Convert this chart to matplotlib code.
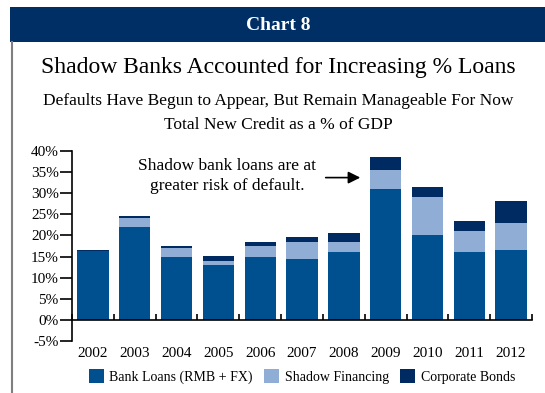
import numpy as np
import matplotlib
matplotlib.use("Agg")
import matplotlib.pyplot as plt
from matplotlib.patches import Rectangle
from matplotlib.lines import Line2D
from matplotlib.ticker import FuncFormatter, FixedLocator

plt.rcParams['font.family'] = ['Liberation Serif', 'DejaVu Serif']

years = ['2002', '2003', '2004', '2005', '2006', '2007', '2008', '2009', '2010', '2011', '2012']
bank_loans = [16.2, 22.0, 14.9, 13.0, 14.9, 14.4, 16.1, 31.0, 20.1, 16.1, 16.6]
shadow_fin = [0.0, 2.1, 2.1, 1.0, 2.6, 4.1, 2.4, 4.5, 9.0, 5.0, 6.4]
corp_bonds = [0.4, 0.5, 0.5, 1.1, 1.0, 1.1, 2.1, 3.1, 2.4, 2.3, 5.2]
yticks = [-5, 0, 5, 10, 15, 20, 25, 30, 35, 40]

c_bank = '#00508f'
c_shadow = '#8fadd5'
c_corp = '#002b62'
c_head = '#002f66'

fig = plt.figure(figsize=(5.45, 3.93), dpi=100)

# header band and frame line
fig.patches.append(Rectangle((10/545, 1-42/393), 1, 35/393, transform=fig.transFigure,
                             facecolor=c_head, edgecolor='none'))
fig.lines.append(Line2D([11.5/545, 11.5/545], [0, 1-42/393], transform=fig.transFigure,
                        color='#7f7f7f', lw=1.5))
fig.text(0.51, 1-25/393, 'Chart 8', ha='center', va='center', color='white',
         fontsize=14, fontweight='bold')
fig.text(0.51, 1-68/393, 'Shadow Banks Accounted for Increasing % Loans',
         ha='center', va='center', fontsize=17)
fig.text(0.51, 1-101/393, 'Defaults Have Begun to Appear, But Remain Manageable For Now',
         ha='center', va='center', fontsize=12.5)
fig.text(0.51, 1-125/393, 'Total New Credit as a % of GDP',
         ha='center', va='center', fontsize=12.5)

ax = fig.add_axes([72/545, 1-341/393, 460/545, 190/393])
x = np.arange(len(years))
b1 = np.array(bank_loans)
b2 = np.array(shadow_fin)
b3 = np.array(corp_bonds)
w = 0.75
ax.bar(x, b1, w, color=c_bank, label='Bank Loans (RMB + FX)')
ax.bar(x, b2, w, bottom=b1, color=c_shadow, label='Shadow Financing')
ax.bar(x, b3, w, bottom=b1 + b2, color=c_corp, label='Corporate Bonds')

ax.set_xlim(-0.5, len(years) - 0.5)
ax.set_ylim(-5, 40)
ax.set_yticks(yticks)
ax.yaxis.set_major_formatter(FuncFormatter(lambda v, p: '%d%%' % v))
ax.tick_params(axis='y', direction='out', length=8.5, width=1.2, labelsize=11, pad=1)

ax.spines['top'].set_visible(False)
ax.spines['right'].set_visible(False)
ax.spines['left'].set_linewidth(1.2)
ax.spines['bottom'].set_position(('data', 0))
ax.spines['bottom'].set_linewidth(1.2)
ax.set_xticks(x)
ax.set_xticklabels(years)
ax.xaxis.set_minor_locator(FixedLocator(np.arange(-0.5, len(years), 1.0)))
ax.tick_params(axis='x', which='major', length=0, labelsize=11, pad=19.5)
ax.tick_params(axis='x', which='minor', direction='in', length=4, width=1.2)

ax.text(3.21, 34.1, 'Shadow bank loans are at\ngreater risk of default.',
        ha='center', va='center', fontsize=12.5, linespacing=1.3)
ax.annotate('', xy=(6.46, 33.7), xytext=(5.5, 33.7),
            arrowprops=dict(arrowstyle='-|>', color='black', lw=1.2, mutation_scale=18))

ax.legend(loc='upper center', bbox_to_anchor=(0.5, -0.12), ncol=3, frameon=False,
          fontsize=10, handlelength=1.1, handleheight=1.1, handletextpad=0.4,
          columnspacing=0.8, borderaxespad=0)

fig.savefig('out.png', dpi=100)
